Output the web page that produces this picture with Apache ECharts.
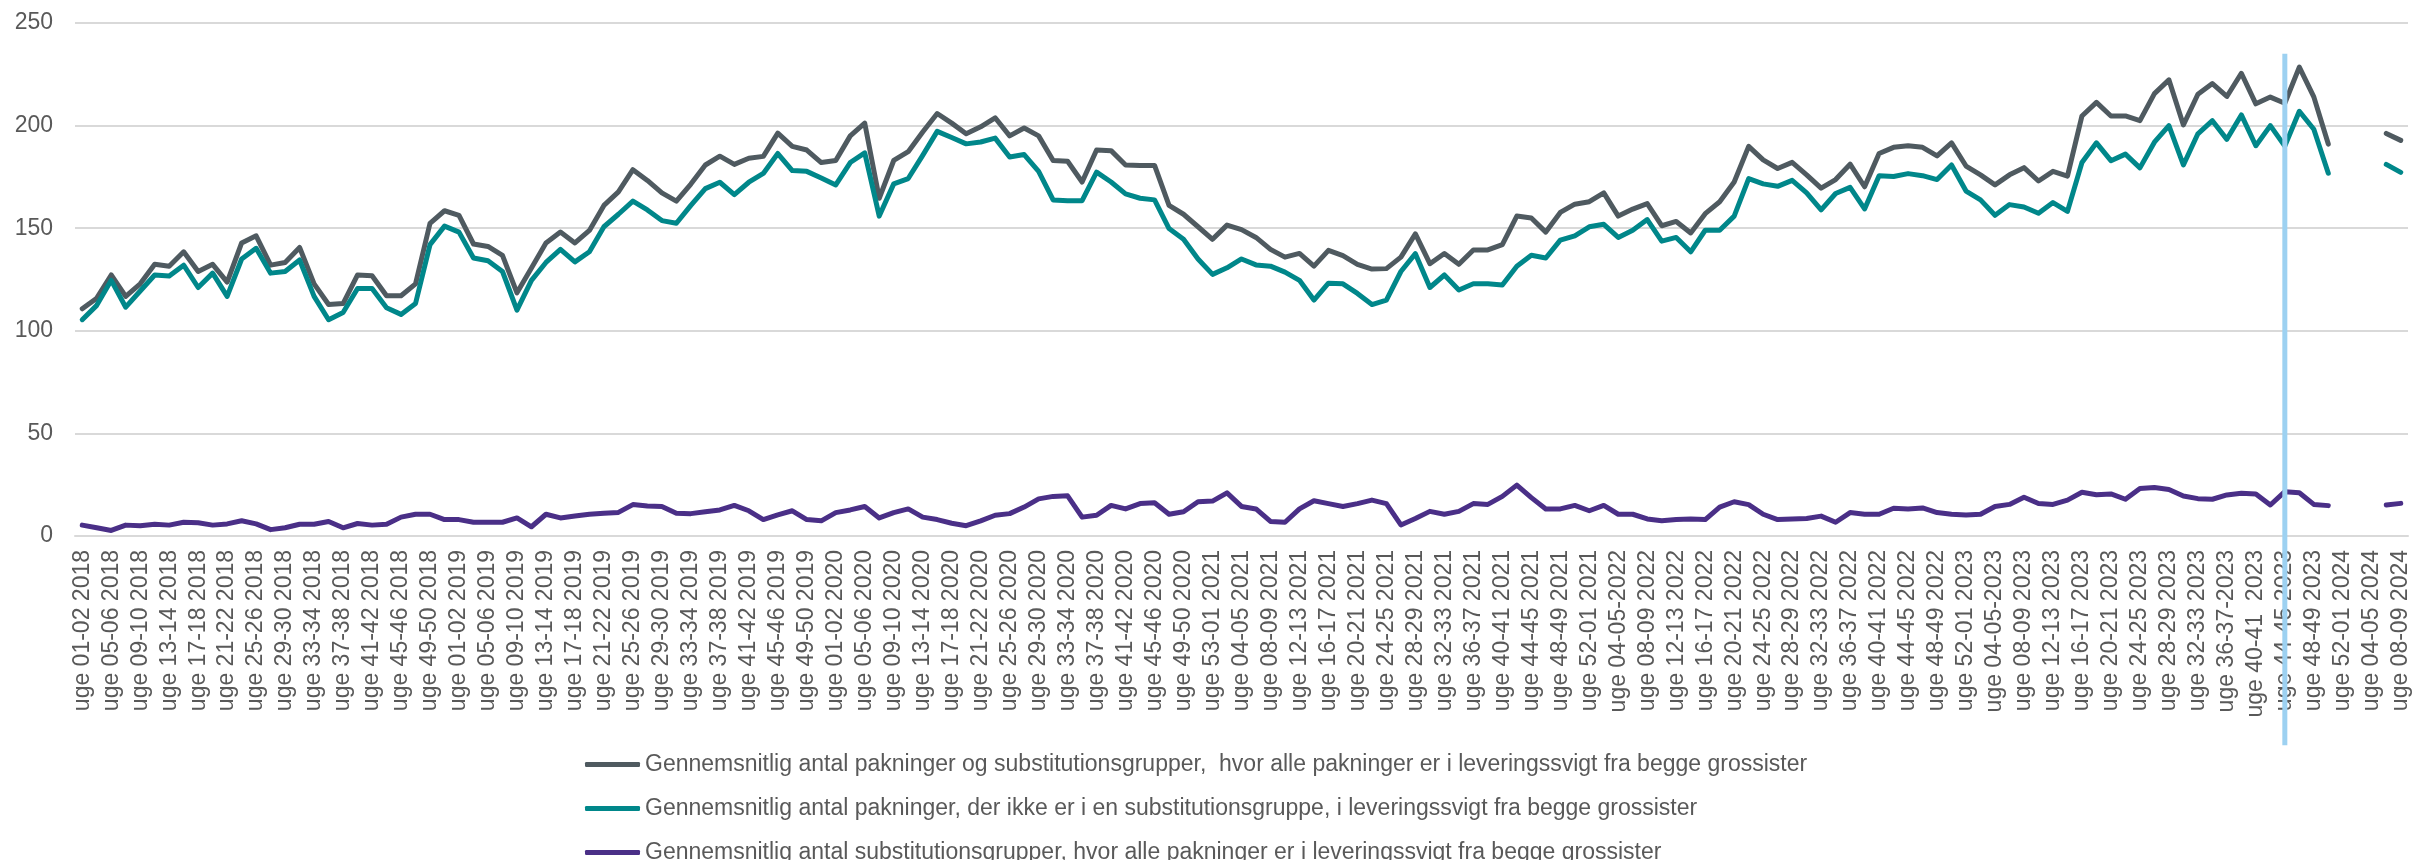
<!DOCTYPE html>
<html>
<head>
<meta charset="utf-8">
<script src="https://cdn.jsdelivr.net/npm/echarts@6/dist/echarts.min.js"></script>
<style>
  html, body { margin: 0; padding: 0; background: #fff; }
  #chart { width: 2416px; height: 860px; }
</style>
</head>
<body>
<div id="chart"></div>
<script>
// two-week periods, labels as written in the source sheet
var categories = [
    'uge 01-02 2018', 'uge 03-04 2018', 'uge 05-06 2018', 'uge 07-08 2018', 'uge 09-10 2018', 'uge 11-12 2018', 'uge 13-14 2018',
    'uge 15-16 2018', 'uge 17-18 2018', 'uge 19-20 2018', 'uge 21-22 2018', 'uge 23-24 2018', 'uge 25-26 2018', 'uge 27-28 2018',
    'uge 29-30 2018', 'uge 31-32 2018', 'uge 33-34 2018', 'uge 35-36 2018', 'uge 37-38 2018', 'uge 39-40 2018', 'uge 41-42 2018',
    'uge 43-44 2018', 'uge 45-46 2018', 'uge 47-48 2018', 'uge 49-50 2018', 'uge 51-52 2018',
    'uge 01-02 2019', 'uge 03-04 2019', 'uge 05-06 2019', 'uge 07-08 2019', 'uge 09-10 2019', 'uge 11-12 2019', 'uge 13-14 2019',
    'uge 15-16 2019', 'uge 17-18 2019', 'uge 19-20 2019', 'uge 21-22 2019', 'uge 23-24 2019', 'uge 25-26 2019', 'uge 27-28 2019',
    'uge 29-30 2019', 'uge 31-32 2019', 'uge 33-34 2019', 'uge 35-36 2019', 'uge 37-38 2019', 'uge 39-40 2019', 'uge 41-42 2019',
    'uge 43-44 2019', 'uge 45-46 2019', 'uge 47-48 2019', 'uge 49-50 2019', 'uge 51-52 2019',
    'uge 01-02 2020', 'uge 03-04 2020', 'uge 05-06 2020', 'uge 07-08 2020', 'uge 09-10 2020', 'uge 11-12 2020', 'uge 13-14 2020',
    'uge 15-16 2020', 'uge 17-18 2020', 'uge 19-20 2020', 'uge 21-22 2020', 'uge 23-24 2020', 'uge 25-26 2020', 'uge 27-28 2020',
    'uge 29-30 2020', 'uge 31-32 2020', 'uge 33-34 2020', 'uge 35-36 2020', 'uge 37-38 2020', 'uge 39-40 2020', 'uge 41-42 2020',
    'uge 43-44 2020', 'uge 45-46 2020', 'uge 47-48 2020', 'uge 49-50 2020', 'uge 51-52 2020',
    'uge 53-01 2021', 'uge 02-03 2021', 'uge 04-05 2021', 'uge 06-07 2021', 'uge 08-09 2021', 'uge 10-11 2021', 'uge 12-13 2021',
    'uge 14-15 2021', 'uge 16-17 2021', 'uge 18-19 2021', 'uge 20-21 2021', 'uge 22-23 2021', 'uge 24-25 2021', 'uge 26-27 2021',
    'uge 28-29 2021', 'uge 30-31 2021', 'uge 32-33 2021', 'uge 34-35 2021', 'uge 36-37 2021', 'uge 38-39 2021', 'uge 40-41 2021',
    'uge 42-43 2021', 'uge 44-45 2021', 'uge 46-47 2021', 'uge 48-49 2021', 'uge 50-51 2021', 'uge 52-01 2021',
    'uge 02-03 2022', 'uge 04-05-2022', 'uge 06-07 2022', 'uge 08-09 2022', 'uge 10-11 2022', 'uge 12-13 2022', 'uge 14-15 2022',
    'uge 16-17 2022', 'uge 18-19 2022', 'uge 20-21 2022', 'uge 22-23 2022', 'uge 24-25 2022', 'uge 26-27 2022', 'uge 28-29 2022',
    'uge 30-31 2022', 'uge 32-33 2022', 'uge 34-35 2022', 'uge 36-37 2022', 'uge 38-39 2022', 'uge 40-41 2022', 'uge 42-43 2022',
    'uge 44-45 2022', 'uge 46-47 2022', 'uge 48-49 2022', 'uge 50-51 2022', 'uge 52-01 2023',
    'uge 02-03 2023', 'uge 04-05-2023', 'uge 06-07 2023', 'uge 08-09 2023', 'uge 10-11 2023', 'uge 12-13 2023', 'uge 14-15 2023',
    'uge 16-17 2023', 'uge 18-19 2023', 'uge 20-21 2023', 'uge 22-23 2023', 'uge 24-25 2023', 'uge 26-27 2023', 'uge 28-29 2023',
    'uge 30-31 2023', 'uge 32-33 2023', 'uge 34-35 2023', 'uge 36-37-2023', 'uge 38-39 2023', 'uge 40-41  2023', 'uge 42-43 2023',
    'uge 44-45 2023', 'uge 46-47 2023', 'uge 48-49 2023', 'uge 50-51 2023', 'uge 52-01 2024',
    'uge 02-03 2024', 'uge 04-05 2024', 'uge 06-07 2024', 'uge 08-09 2024'
];

var seriesNames = [
    'Gennemsnitlig antal pakninger og substitutionsgrupper,  hvor alle pakninger er i leveringssvigt fra begge grossister',
    'Gennemsnitlig antal pakninger, der ikke er i en substitutionsgruppe, i leveringssvigt fra begge grossister',
    'Gennemsnitlig antal substitutionsgrupper, hvor alle pakninger er i leveringssvigt fra begge grossister'
];

// packages + substitution groups
var totalValues = [
    110.7, 115.9, 127.2, 116.8, 122.9, 132.4, 131.5, 138.5, 128.9, 132.4,
    123.7, 142.8, 146.3, 132, 133.3, 140.6, 122.9, 112.8, 113.3, 127.2,
    126.8, 117.1, 117.1, 122.9, 152.4, 158.5, 156.3, 142.3, 141.1, 136.8,
    118.5, 130.6, 142.8, 148.1, 142.8, 148.9, 161.1, 167.7, 178.5, 173.3,
    167.2, 163.2, 171.5, 180.8, 185.1, 181.1, 184.1, 185, 196.3, 189.9,
    188.1, 182, 183, 195, 201.2, 164.6, 183, 187.3, 196.9, 205.9,
    201.2, 196, 199.4, 203.8, 195, 198.8, 195, 183, 182.6, 172.5,
    188.1, 187.8, 180.8, 180.6, 180.6, 161.1, 156.8, 150.7, 144.6, 151.5,
    149.3, 145.5, 139.7, 135.9, 137.7, 131.5, 139.2, 136.6, 132.4, 130.1,
    130.3, 135.9, 147.2, 132.7, 137.7, 132.4, 139.4, 139.4, 142, 155.9,
    155, 148.1, 157.7, 161.7, 162.9, 167.2, 155.9, 159.3, 162, 151.2,
    153.3, 147.7, 157.1, 162.9, 172.5, 189.9, 183.3, 179.1, 182.1, 176,
    169.5, 173.7, 181.2, 170.2, 186.4, 189.4, 190.2, 189.4, 185.2, 191.6,
    180.3, 176, 171.1, 176, 179.5, 173, 177.7, 175.4, 204.7, 211.3,
    204.7, 204.7, 202.4, 215.6, 222.3, 200.3, 215.3, 220.5, 214.2, 225.5,
    210.6, 213.9, 210.9, 228.5, 214, 191, null, null, null, 196.2, 192.8
];

// packages not in a substitution group
var packageValues = [
    105.4, 112.4, 124.6, 111.5, 119.4, 127.2, 126.7, 132, 121.1, 128.1,
    116.8, 135, 140.2, 128.1, 128.9, 134.5, 116.8, 105.4, 108.9, 120.6,
    120.6, 111.2, 108, 113.3, 142, 151, 148.1, 135.5, 134.1, 128.9,
    110.1, 124.6, 133.3, 139.7, 133.6, 138.5, 150.7, 156.8, 163.2, 158.9,
    153.7, 152.4, 161.1, 169.3, 172.4, 166.4, 172.4, 176.7, 186.4, 178.1,
    177.7, 174.5, 171.1, 182, 186.7, 155.9, 171.6, 174.2, 185.5, 197.2,
    194.2, 191.1, 192, 193.9, 184.7, 185.9, 177.7, 163.8, 163.4, 163.4,
    177.3, 172.5, 166.7, 164.6, 163.8, 149.8, 144.6, 135, 127.5, 130.7,
    135, 132.1, 131.5, 128.6, 124.6, 115, 123.2, 122.9, 118.2, 112.8,
    115, 128.9, 137.6, 121.1, 127.2, 119.9, 122.9, 122.9, 122.3, 131.5,
    136.8, 135.5, 144.2, 146.3, 150.7, 151.9, 145.5, 149, 154.2, 143.7,
    145.5, 138.5, 149, 149, 155.9, 174.2, 171.6, 170.4, 173.3, 167.2,
    158.9, 166.9, 169.9, 159.4, 175.6, 175.2, 176.6, 175.6, 173.7, 180.8,
    168.1, 163.8, 156.3, 161.5, 160.3, 157.3, 162.5, 158.2, 182, 191.6,
    182.9, 186.1, 179.4, 191.9, 200, 180.8, 196, 202.4, 193.3, 205.2,
    190.2, 200, 190, 207, 198.2, 176.8, null, null, null, 181.1, 177.2
];

// substitution groups
var groupValues = [
    5.3, 4, 2.7, 5.3, 5, 5.7, 5.3, 6.7, 6.5, 5.3,
    5.9, 7.4, 5.9, 3.1, 4, 5.7, 5.7, 7.1, 4, 6.1,
    5.3, 5.7, 9.2, 10.6, 10.6, 8, 8, 6.7, 6.7, 6.7,
    8.8, 4.5, 10.6, 8.8, 9.7, 10.6, 11.1, 11.5, 15.3, 14.6,
    14.4, 11.1, 10.9, 11.8, 12.7, 14.9, 12.3, 8, 10.3, 12.3,
    8, 7.4, 11.4, 12.7, 14.4, 8.8, 11.4, 13.2, 9.2, 8,
    6.2, 5, 7.4, 10.1, 10.9, 14.1, 18.1, 19.3, 19.6, 9.2,
    10.1, 14.9, 13.2, 15.8, 16.2, 10.6, 11.8, 16.7, 17, 21,
    14.4, 13.2, 7.1, 6.7, 13.2, 17.2, 15.8, 14.4, 15.8, 17.5,
    15.8, 5.4, 8.5, 12, 10.6, 12, 15.8, 15.4, 19.3, 24.8,
    18.7, 13.2, 13.2, 14.9, 12.3, 14.9, 10.6, 10.6, 8.3, 7.4,
    8, 8.3, 8, 14.1, 16.7, 15.3, 10.6, 8, 8.3, 8.5,
    9.7, 6.7, 11.4, 10.6, 10.6, 13.5, 13.2, 13.7, 11.4, 10.6,
    10.2, 10.6, 14.4, 15.4, 18.9, 15.8, 15.4, 17.5, 21.3, 20.1,
    20.5, 17.9, 23.1, 23.6, 22.7, 19.5, 18.2, 17.9, 20, 20.8,
    20.5, 15.1, 21.6, 21.1, 15.4, 14.8, null, null, null, 15.1, 15.9
];

var yTicks = [0, 50, 100, 150, 200, 250];

// highlighted week: vertical blue rule, spans from value 235 down into the label area
var markerWeek = 'uge 44-45 2023';
var markerTop = 235;
var markerBottom = -102;

var colors = ['#4f5a60', '#00878a', '#4a2f87'];
var fontName = '"Liberation Sans", Arial, sans-serif';

var myChart = echarts.init(document.getElementById('chart'));

function lineSeries(idx, values) {
    return {
        name: seriesNames[idx],
        type: 'line',
        data: values,
        symbol: 'none',
        smooth: false,
        connectNulls: false,
        lineStyle: { width: 5, color: colors[idx], join: 'round', cap: 'round' },
        itemStyle: { color: colors[idx] }
    };
}

option = {
    backgroundColor: '#fff',
    animation: false,
    textStyle: { fontFamily: fontName },
    grid: {
        left: 75,
        right: 8,
        top: 23,
        bottom: 324,
        containLabel: false,
        outerBoundsMode: 'none'
    },
    legend: {
        orient: 'vertical',
        left: 585,
        top: 753,
        height: 200,
        width: 1800,
        padding: 0,
        icon: 'roundRect',
        itemWidth: 55,
        itemHeight: 5,
        itemGap: 21,
        textStyle: { fontSize: 23, lineHeight: 18, color: '#595959', fontFamily: fontName },
        data: seriesNames
    },
    xAxis: {
        type: 'category',
        data: categories,
        boundaryGap: true,
        axisLine: { show: true, lineStyle: { color: '#d9d9d9', width: 2 } },
        axisTick: { show: false },
        axisLabel: {
            interval: 1,
            rotate: 90,
            margin: 14,
            fontSize: 23,
            color: '#595959',
            fontFamily: fontName
        }
    },
    yAxis: {
        type: 'value',
        min: yTicks[0],
        max: yTicks[yTicks.length - 1],
        interval: 50,
        axisLine: { show: false },
        axisTick: { show: false },
        axisLabel: { margin: 22, fontSize: 23, color: '#595959', fontFamily: fontName },
        splitLine: { lineStyle: { color: '#d9d9d9', width: 2 } }
    },
    series: [
        lineSeries(0, totalValues),
        lineSeries(1, packageValues),
        lineSeries(2, groupValues)
    ]
};

myChart.setOption(option);

// place the blue rule through the chart's own scales
var mx = myChart.convertToPixel({ xAxisIndex: 0 }, markerWeek);
var myTop = myChart.convertToPixel({ yAxisIndex: 0 }, markerTop);
var myBottom = myChart.convertToPixel({ yAxisIndex: 0 }, markerBottom);
myChart.setOption({
    graphic: [{
        type: 'line',
        silent: true,
        z: 100,
        shape: { x1: mx, y1: myTop, x2: mx, y2: myBottom },
        style: { stroke: '#9dd1f1', lineWidth: 5 }
    }]
});
</script>
</body>
</html>
